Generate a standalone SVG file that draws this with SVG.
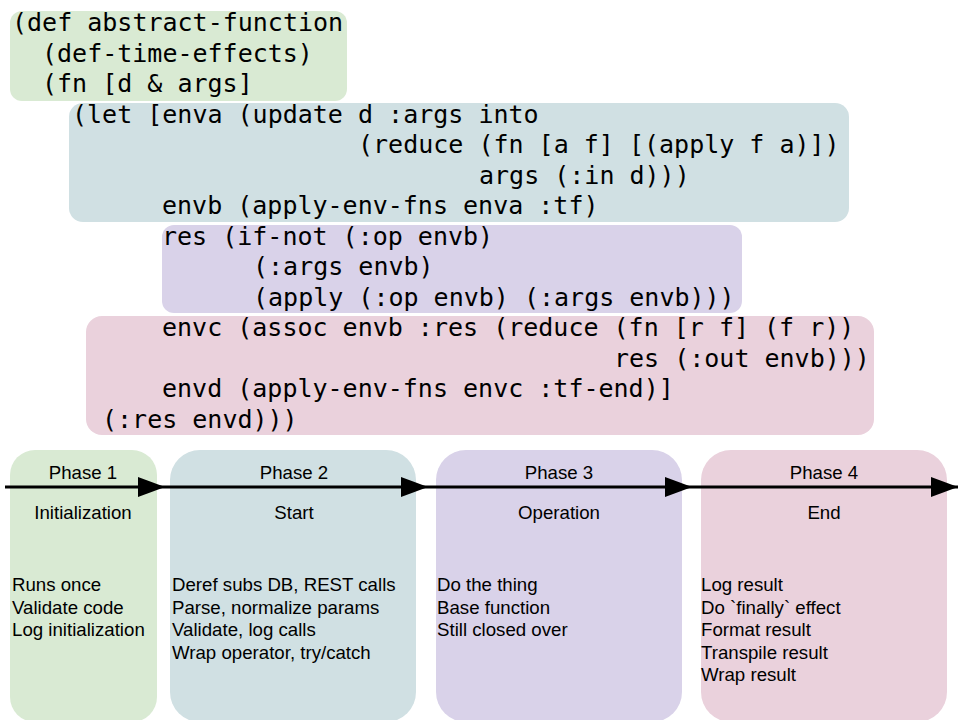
<svg xmlns="http://www.w3.org/2000/svg" width="960" height="720" viewBox="0 0 960 720">
<style>
.code{font-family:"DejaVu Sans Mono","Liberation Mono",monospace;font-size:25px;fill:#000;white-space:pre}
.lbl{font-family:"Liberation Sans",Arial,sans-serif;font-size:18.67px;fill:#000}
.c{text-anchor:middle}
.g{fill:#d9ead3}.b{fill:#d0e0e3}.p{fill:#d9d2e9}.r{fill:#ead1dc}
.arrow{stroke:#000;stroke-width:3;fill:none;marker-end:url(#ah)}
</style>
<defs>
<marker id="ah" markerWidth="27" markerHeight="20" refX="27" refY="10" orient="auto" markerUnits="userSpaceOnUse" viewBox="0 0 27 20">
<path d="M0,0 L27,10 L0,20 z" fill="#000"/>
</marker>
</defs>
<rect width="960" height="720" fill="#fff"/>
<g id="code-blocks">
<rect id="code-green" class="g" x="10" y="11" width="337" height="90" rx="12"/>
<rect id="code-blue" class="b" x="69" y="103" width="780" height="119" rx="14"/>
<rect id="code-purple" class="p" x="162" y="225" width="580" height="88" rx="12"/>
<rect id="code-pink" class="r" x="86" y="316" width="788" height="119" rx="16"/>
</g>
<g id="code-text">
<text class="code" x="12" y="31">(def abstract-function</text>
<text class="code" x="42" y="61.5">(def-time-effects)</text>
<text class="code" x="42" y="92">(fn [d &amp; args]</text>
<text class="code" x="72" y="122.5">(let [enva (update d :args into</text>
<text class="code" x="358" y="153">(reduce (fn [a f] [(apply f a)])</text>
<text class="code" x="479" y="183.5">args (:in d)))</text>
<text class="code" x="162" y="214">envb (apply-env-fns enva :tf)</text>
<text class="code" x="162" y="244.5">res (if-not (:op envb)</text>
<text class="code" x="253" y="275">(:args envb)</text>
<text class="code" x="253" y="305.5">(apply (:op envb) (:args envb)))</text>
<text class="code" x="162" y="336">envc (assoc envb :res (reduce (fn [r f] (f r))</text>
<text class="code" x="614" y="366.5">res (:out envb)))</text>
<text class="code" x="162" y="397">envd (apply-env-fns envc :tf-end)]</text>
<text class="code" x="102" y="427.5">(:res envd)))</text>
</g>
<g id="phase1">
<rect class="g" x="10" y="450" width="147" height="272" rx="25"/>
<text class="lbl c" x="83" y="479">Phase 1</text>
<text class="lbl c" x="83" y="519">Initialization</text>
<text class="lbl" x="12" y="591">Runs once</text>
<text class="lbl" x="12" y="613.5">Validate code</text>
<text class="lbl" x="12" y="636">Log initialization</text>
</g>
<g id="phase2">
<rect class="b" x="170" y="450" width="246" height="272" rx="30"/>
<text class="lbl c" x="294" y="479">Phase 2</text>
<text class="lbl c" x="294" y="519">Start</text>
<text class="lbl" x="172" y="591">Deref subs DB, REST calls</text>
<text class="lbl" x="172" y="613.5">Parse, normalize params</text>
<text class="lbl" x="172" y="636">Validate, log calls</text>
<text class="lbl" x="172" y="658.5">Wrap operator, try/catch</text>
</g>
<g id="phase3">
<rect class="p" x="436" y="450" width="246" height="272" rx="30"/>
<text class="lbl c" x="559" y="479">Phase 3</text>
<text class="lbl c" x="559" y="519">Operation</text>
<text class="lbl" x="437" y="591">Do the thing</text>
<text class="lbl" x="437" y="613.5">Base function</text>
<text class="lbl" x="437" y="636">Still closed over</text>
</g>
<g id="phase4">
<rect class="r" x="701" y="450" width="246" height="272" rx="30"/>
<text class="lbl c" x="824" y="479">Phase 4</text>
<text class="lbl c" x="824" y="519">End</text>
<text class="lbl" x="701" y="591">Log result</text>
<text class="lbl" x="701" y="613.5">Do `finally` effect</text>
<text class="lbl" x="701" y="636">Format result</text>
<text class="lbl" x="701" y="658.5">Transpile result</text>
<text class="lbl" x="701" y="681">Wrap result</text>
</g>
<g id="connectors">
<path class="arrow" d="M5,487 H165"/>
<path class="arrow" d="M165,487 H428"/>
<path class="arrow" d="M428,487 H692"/>
<path class="arrow" d="M692,487 H958"/>
</g>
</svg>
